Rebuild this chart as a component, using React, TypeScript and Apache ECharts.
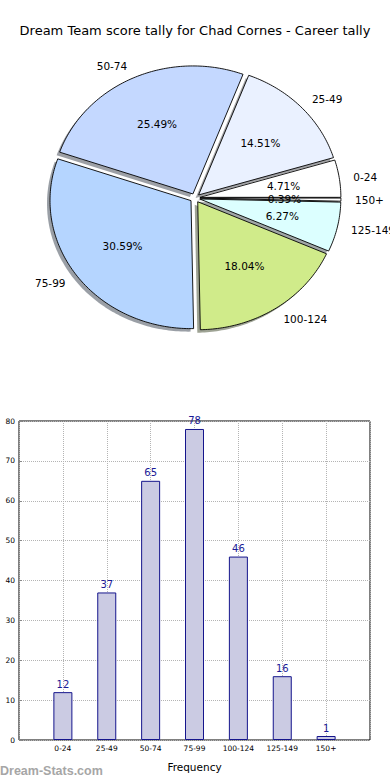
import React, { useEffect, useRef } from 'react';
import * as echarts from 'echarts';

const TITLE = 'Dream Team score tally for Chad Cornes - Career tally';
const categories = ['0-24', '25-49', '50-74', '75-99', '100-124', '125-149', '150+'];
const counts = [12, 37, 65, 78, 46, 16, 1];
const pieColors = ['#ffffff', '#eaf1ff', '#c4d8ff', '#b5d5ff', '#d0eb8a', '#dcffff', '#ffffff'];
const yMax = 80;
const yStep = 10;
const xAxisName = 'Frequency';
const watermark = 'Dream-Stats.com';

const FONT = 'DejaVu Sans';
// pie geometry (pixels)
const PIE = { cx: 195, cy: 198, rx: 141, ry: 128, explode: 0.035, sdx: -3, sdy: 3 };

const total = counts.reduce((a, b) => a + b, 0);
const starts: number[] = [];
{
  let acc = 0;
  counts.forEach((v) => {
    starts.push(acc);
    acc += v;
  });
}

function shadowColor(hex: string) {
  const r = parseInt(hex.slice(1, 3), 16);
  const g = parseInt(hex.slice(3, 5), 16);
  const b = parseInt(hex.slice(5, 7), 16);
  return `rgba(${Math.round(r * 0.3)},${Math.round(g * 0.3)},${Math.round(b * 0.3)},0.5)`;
}

function renderSlice(params: any, api: any) {
  const i = params.dataIndex;
  const v = api.value(0);
  const a0 = (starts[i] / total) * Math.PI * 2;
  const a1 = a0 + (v / total) * Math.PI * 2;
  const am = (a0 + a1) / 2;
  const { cx, cy, rx, ry, explode, sdx, sdy } = PIE;
  const ox = cx + explode * rx * Math.cos(am);
  const oy = cy - explode * ry * Math.sin(am);
  const n = Math.max(2, Math.ceil((a1 - a0) / (Math.PI / 180)));
  const pts: number[][] = [[ox, oy]];
  for (let k = 0; k <= n; k++) {
    const a = a0 + ((a1 - a0) * k) / n;
    pts.push([ox + rx * Math.cos(a), oy - ry * Math.sin(a)]);
  }
  const shadowPts = pts.map((p) => [p[0] + sdx, p[1] + sdy]);
  const lx = ox + 1.1 * rx * Math.cos(am);
  const ly = oy - 1.1 * ry * Math.sin(am);
  const px = ox + 0.6 * rx * Math.cos(am);
  const py = oy - 0.6 * ry * Math.sin(am);
  const pct = ((v / total) * 100).toFixed(2) + '%';
  return {
    type: 'group',
    children: [
      {
        type: 'polygon',
        z2: 1,
        shape: { points: shadowPts },
        style: { fill: shadowColor(pieColors[i]), stroke: 'none' },
      },
      {
        type: 'polygon',
        z2: 10,
        shape: { points: pts },
        style: { fill: pieColors[i], stroke: '#000', lineWidth: 0.9 },
      },
      {
        type: 'text',
        z2: 20,
        x: lx,
        y: ly,
        style: {
          text: categories[i],
          fill: '#000',
          fontSize: 10.5,
          fontFamily: FONT,
          align: Math.cos(am) > 0 ? 'left' : 'right',
          verticalAlign: 'middle',
        },
      },
      {
        type: 'text',
        z2: 20,
        x: px,
        y: py,
        style: {
          text: pct,
          fill: '#000',
          fontSize: 10.5,
          fontFamily: FONT,
          align: 'center',
          verticalAlign: 'middle',
        },
      },
    ],
  };
}

export default function App() {
  const ref = useRef<HTMLDivElement>(null);
  useEffect(() => {
    if (!ref.current) return;
    const chart = echarts.init(ref.current, null, { renderer: 'svg' });
    chart.setOption({
      animation: false,
      backgroundColor: '#ffffff',
      title: {
        text: TITLE,
        left: 'center',
        top: 19,
        textStyle: { fontFamily: FONT, fontSize: 13, fontWeight: 'normal', color: '#000' },
      },
      graphic: [
        {
          type: 'text',
          left: 0,
          top: 764,
          style: {
            text: watermark,
            fontFamily: 'Liberation Sans',
            fontWeight: 'bold',
            fontSize: 12.5,
            fill: '#a6a6a6',
          },
        },
      ],
      grid: {
        left: 19,
        top: 421,
        width: 351,
        height: 319,
        show: true,
        borderColor: '#000',
        borderWidth: 1,
        backgroundColor: 'transparent',
      },
      xAxis: {
        type: 'value',
        min: 0,
        max: categories.length + 1,
        interval: 1,
        name: xAxisName,
        nameLocation: 'middle',
        nameGap: 21,
        nameTextStyle: { fontFamily: FONT, fontSize: 10.5, color: '#000' },
        axisLine: { show: false },
        axisTick: { show: true, inside: true, length: 3, lineStyle: { color: '#888' } },
        axisLabel: {
          fontFamily: FONT,
          fontSize: 7.5,
          color: '#000',
          margin: 4,
          formatter: (v: number) => categories[v - 1] ?? '',
        },
        splitLine: { show: true, lineStyle: { type: 'dotted', color: '#b4b4b4', width: 1 } },
      },
      yAxis: {
        type: 'value',
        min: 0,
        max: yMax,
        interval: yStep,
        axisLine: { show: false },
        axisTick: { show: true, inside: true, length: 3, lineStyle: { color: '#888' } },
        axisLabel: { fontFamily: FONT, fontSize: 7.5, color: '#000', margin: 4 },
        splitLine: { show: true, lineStyle: { type: 'dotted', color: '#b4b4b4', width: 1 } },
      },
      series: [
        {
          type: 'bar',
          data: counts.map((c, i) => [i + 1, c]),
          barWidth: 19,
          itemStyle: { color: '#cbcbe3', borderColor: '#15158c', borderWidth: 1 },
          label: {
            show: true,
            position: 'top',
            distance: 3,
            color: '#1a1a96',
            fontFamily: FONT,
            fontSize: 10,
            formatter: (p: any) => String(p.value[1]),
          },
          z: 3,
        },
        {
          type: 'custom',
          coordinateSystem: 'none',
          silent: true,
          data: counts.map((c) => [c]),
          renderItem: renderSlice,
        },
      ],
    });
    return () => chart.dispose();
  }, []);
  return (
    <div
      ref={ref}
      style={{ position: 'absolute', left: 0, top: 0, width: 390, height: 780 }}
    />
  );
}
